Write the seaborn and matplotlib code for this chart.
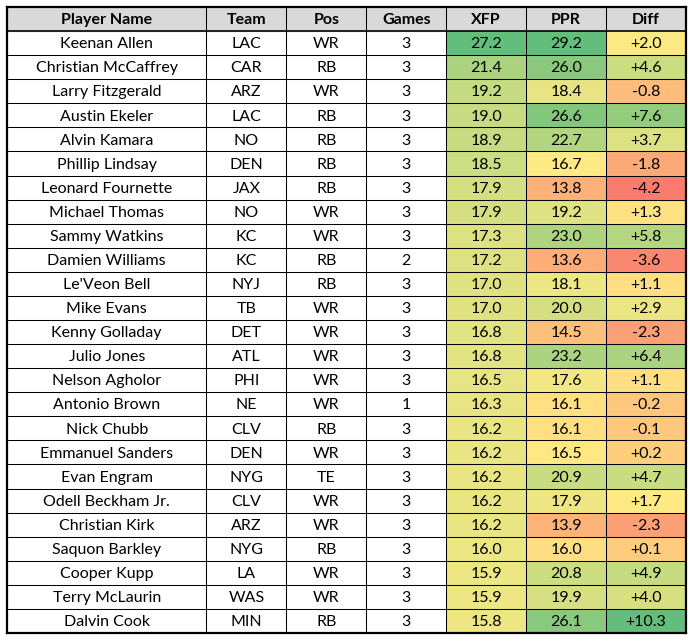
import numpy as np
import pandas as pd
import matplotlib
matplotlib.use("Agg")
import matplotlib.pyplot as plt
import seaborn as sns
from matplotlib.colors import LinearSegmentedColormap

# --- dados da tabela ---
players = ["Keenan Allen", "Christian McCaffrey", "Larry Fitzgerald", "Austin Ekeler",
           "Alvin Kamara", "Phillip Lindsay", "Leonard Fournette", "Michael Thomas",
           "Sammy Watkins", "Damien Williams", "Le'Veon Bell", "Mike Evans",
           "Kenny Golladay", "Julio Jones", "Nelson Agholor", "Antonio Brown",
           "Nick Chubb", "Emmanuel Sanders", "Evan Engram", "Odell Beckham Jr.",
           "Christian Kirk", "Saquon Barkley", "Cooper Kupp", "Terry McLaurin",
           "Dalvin Cook"]
teams = ["LAC", "CAR", "ARZ", "LAC", "NO", "DEN", "JAX", "NO", "KC", "KC", "NYJ", "TB",
         "DET", "ATL", "PHI", "NE", "CLV", "DEN", "NYG", "CLV", "ARZ", "NYG", "LA",
         "WAS", "MIN"]
positions = ["WR", "RB", "WR", "RB", "RB", "RB", "RB", "WR", "WR", "RB", "RB", "WR",
             "WR", "WR", "WR", "WR", "RB", "WR", "TE", "WR", "WR", "RB", "WR", "WR", "RB"]
games = [3, 3, 3, 3, 3, 3, 3, 3, 3, 2, 3, 3, 3, 3, 3, 1, 3, 3, 3, 3, 3, 3, 3, 3, 3]
xfp = [27.2, 21.4, 19.2, 19.0, 18.9, 18.5, 17.9, 17.9, 17.3, 17.2, 17.0, 17.0, 16.8,
       16.8, 16.5, 16.3, 16.2, 16.2, 16.2, 16.2, 16.2, 16.0, 15.9, 15.9, 15.8]
ppr = [29.2, 26.0, 18.4, 26.6, 22.7, 16.7, 13.8, 19.2, 23.0, 13.6, 18.1, 20.0, 14.5,
       23.2, 17.6, 16.1, 16.1, 16.5, 20.9, 17.9, 13.9, 16.0, 20.8, 19.9, 26.1]
diff = [2.0, 4.6, -0.8, 7.6, 3.7, -1.8, -4.2, 1.3, 5.8, -3.6, 1.1, 2.9, -2.3, 6.4,
        1.1, -0.2, -0.1, 0.2, 4.7, 1.7, -2.3, 0.1, 4.9, 4.0, 10.3]
headers = ["Player Name", "Team", "Pos", "Games", "XFP", "PPR", "Diff"]

# escala de cores (min, meio, max) estilo Excel por coluna
SCALES = {"XFP": (2.0, 14.5, 27.2), "PPR": (10.3, 16.6, 29.2), "Diff": (-5.3, 1.8, 10.3)}
NAME_W = 2.496  # largura da coluna do nome em unidades de coluna

df = pd.DataFrame({"Team": teams, "Pos": positions, "Games": games,
                   "XFP": xfp, "PPR": ppr, "Diff": diff})


def scale01(v, lo, mid, hi):
    v = np.asarray(v, dtype=float)
    return np.where(v < mid, 0.5 * (v - lo) / (mid - lo), 0.5 + 0.5 * (v - mid) / (hi - mid))


cols = ["Team", "Pos", "Games", "XFP", "PPR", "Diff"]
grid = pd.DataFrame(np.nan, index=range(len(players) + 1), columns=cols)
for c in ["XFP", "PPR", "Diff"]:
    grid.loc[1:, c] = scale01(df[c], *SCALES[c])

cmap = LinearSegmentedColormap.from_list(
    "ryg", [(0.0, "#F8696B"), (0.5, "#FFEB84"), (1.0, "#63BE7B")])

fig = plt.figure(figsize=(6.93, 6.41), dpi=100)
ax = fig.add_axes([7 / 693, 8 / 641, 679 / 693, 626 / 641])
ax.set_facecolor("white")
sns.heatmap(grid, ax=ax, cmap=cmap, vmin=0, vmax=1, cbar=False,
            linewidths=0, xticklabels=False, yticklabels=False)
ax.set_xlim(-NAME_W, len(cols))
ax.set_ylim(len(players) + 1, 0)
ax.axhspan(0, 1, color="#D9D9D9", zorder=0)

FONT = "Lato"
FS = 11.5
centers = [-NAME_W / 2] + [i + 0.5 for i in range(len(cols))]
for x, h in zip(centers, headers):
    ax.text(x, 0.55, h, ha="center", va="center", fontsize=FS,
            fontweight="bold", family=FONT)

for r in range(len(players)):
    y = r + 1.55
    vals = [players[r], teams[r], positions[r], str(games[r]),
            f"{xfp[r]:.1f}", f"{ppr[r]:.1f}", f"{diff[r]:+.1f}"]
    for x, v in zip(centers, vals):
        ax.text(x, y, v, ha="center", va="center", fontsize=FS, family=FONT)

# linhas da grade
for y in range(2, len(players) + 1):
    ax.axhline(y, color="black", lw=0.75)
ax.axhline(1, color="black", lw=1.2)
for x in range(0, len(cols)):
    ax.axvline(x, color="black", lw=0.75)
for s in ax.spines.values():
    s.set_visible(True)
    s.set_linewidth(1.6)
    s.set_color("black")

fig.savefig("out.png", dpi=100)
